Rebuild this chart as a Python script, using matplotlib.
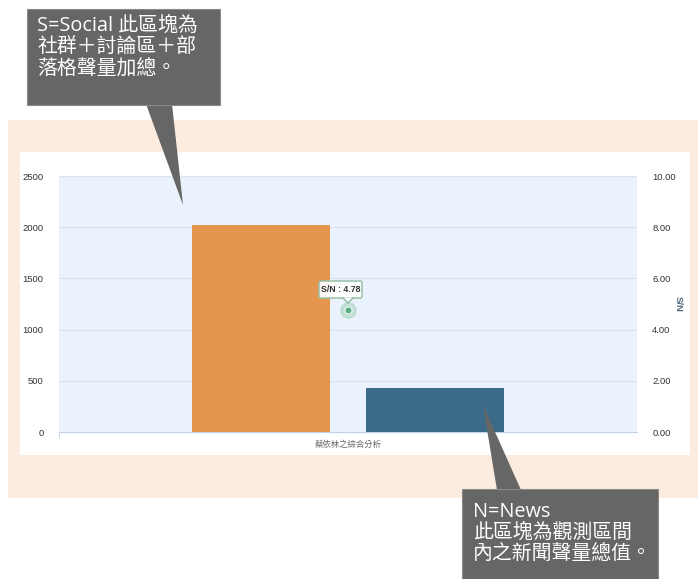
import matplotlib
matplotlib.use('Agg')
import matplotlib.pyplot as plt
from matplotlib.patches import Rectangle, Polygon, FancyBboxPatch
import numpy as np

plt.rcParams['font.family'] = ['Liberation Sans', 'Noto Sans CJK TC', 'DejaVu Sans']

# data
category = ['蔡依林之綜合分析']
social = [2020]
news = [430]
sn_ratio = [4.78]
left_ticks = [0, 500, 1000, 1500, 2000, 2500]
right_ticks = [0, 2, 4, 6, 8, 10]

W, H = 698, 579
fig = plt.figure(figsize=(W / 100, H / 100), dpi=100)

def px(x0, y0, x1, y1):
    # pixel box (top-left origin) -> figure fraction rect
    return [x0 / W, 1 - y1 / H, (x1 - x0) / W, (y1 - y0) / H]

# background panels
bg = fig.add_axes([0, 0, 1, 1], zorder=0)
bg.set_xlim(0, W)
bg.set_ylim(H, 0)
bg.axis('off')
bg.add_patch(Rectangle((8, 120), 690, 378, facecolor='#fcecdf', edgecolor='none'))
bg.add_patch(Rectangle((20, 152), 670, 303, facecolor='white', edgecolor='none'))

# main chart
ax = fig.add_axes(px(59, 176, 637, 432), zorder=1)
ax.set_facecolor('#eaf2fd')
x = np.arange(len(category))
bw = 0.239
ax.bar(x - 0.15, social, width=bw, color='#e5964e', zorder=3)
ax.bar(x + 0.151, news, width=bw, color='#3c6a89', zorder=3)
ax.set_xlim(-0.5, 0.5)
ax.set_ylim(0, 2500)
ax.set_yticks(left_ticks)
ax.set_yticklabels([str(v) for v in left_ticks], fontsize=6.8, color='#333333')
ax.grid(axis='y', color='#d8e3ef', linewidth=0.8, zorder=0)
ax.set_xticks(x)
ax.set_xticklabels(category, fontsize=6, color='#666666', family=['Noto Sans CJK TC'])
ax.set_xticks([-0.5], minor=True)
ax.tick_params(axis='x', which='major', length=0, pad=6)
ax.tick_params(axis='x', which='minor', length=4, color='#c0d0e0')
ax.tick_params(axis='y', length=0, pad=11)
for s in ['top', 'right', 'left']:
    ax.spines[s].set_visible(False)
ax.spines['bottom'].set_color('#c0d0e0')

ax2 = ax.twinx()
ax2.set_ylim(0, 10)
ax2.set_yticks(right_ticks)
ax2.set_yticklabels(['%.2f' % v for v in right_ticks], fontsize=6.8, color='#333333')
ax2.tick_params(axis='y', length=0, pad=11)
for s in ax2.spines.values():
    s.set_visible(False)
ax2.set_ylabel('S/N', rotation=-90, fontsize=6.8, color='#4d6a80', labelpad=5, fontweight='bold')
ax2.plot(x, sn_ratio, 'o', ms=11, color='#9fd0b4', alpha=0.5, zorder=4)
ax2.plot(x, sn_ratio, 'o', ms=5, color='#5caf7e', mec='white', mew=0.6, zorder=5)

# overlay for tooltip and callouts
ov = fig.add_axes([0, 0, 1, 1], zorder=5)
ov.set_xlim(0, W)
ov.set_ylim(H, 0)
ov.axis('off')

# tooltip
ov.add_patch(FancyBboxPatch((319, 281), 43, 17, boxstyle='round,pad=0,rounding_size=2',
                            facecolor='white', edgecolor='#9cbfa9', linewidth=1.2, alpha=0.95))
ov.add_patch(Polygon([[343, 297.5], [353, 297.5], [348, 303]], closed=True,
                     facecolor='white', edgecolor='none'))
ov.plot([343, 348, 353], [298, 303, 298], color='#9cbfa9', linewidth=1.2)
ov.text(340.5, 289.5, 'S/N : %.2f' % sn_ratio[0], fontsize=6.3, color='#333333',
        ha='center', va='center', fontweight='bold')

callout_font = ['Open Sans', 'Noto Sans CJK TC']

# callout 1
ov.add_patch(Polygon([[146, 104], [172, 104], [183, 205]], closed=True,
                     facecolor='#666666', edgecolor='none'))
ov.add_patch(Rectangle((27, 9), 193, 96, facecolor='#666666', edgecolor='#8a8a8a', linewidth=0.8))
ov.text(37, 16, 'S=Social 此區塊為\n社群＋討論區＋部\n落格聲量加總。', fontsize=14.3, color='white',
        ha='left', va='top', linespacing=1.08, family=callout_font)

# callout 2
ov.add_patch(Polygon([[497, 490], [521, 490], [483, 405]], closed=True,
                     facecolor='#666666', edgecolor='none'))
ov.add_patch(Rectangle((462, 489), 196, 95, facecolor='#666666', edgecolor='#8a8a8a', linewidth=0.8))
ov.text(473, 502, 'N=News\n此區塊為觀測區間\n內之新聞聲量總值。', fontsize=14.3, color='white',
        ha='left', va='top', linespacing=1.08, family=callout_font)

fig.savefig('out.png', dpi=100)
